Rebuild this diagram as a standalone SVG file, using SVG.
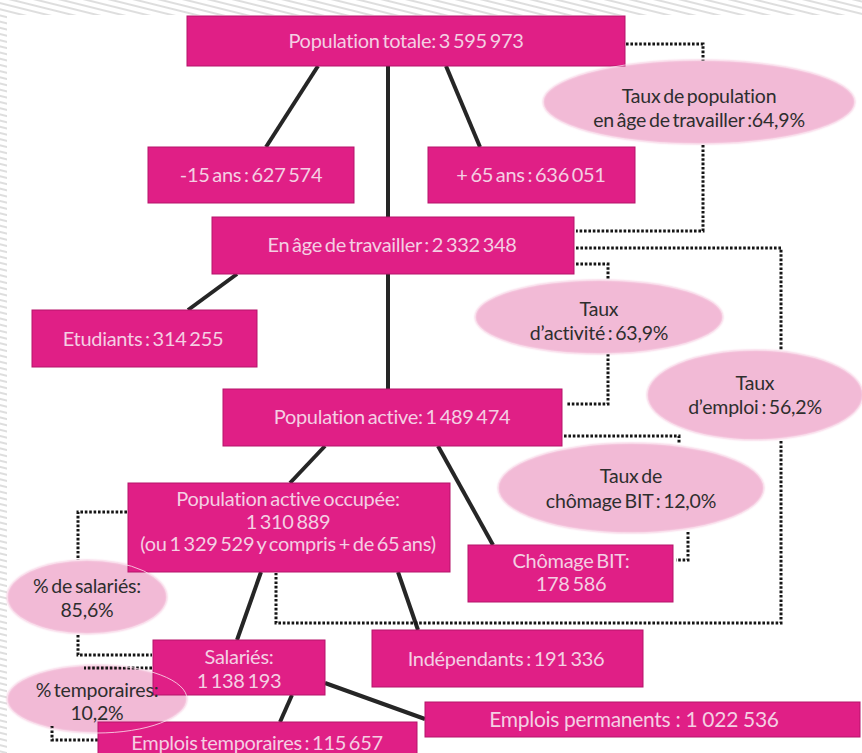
<svg xmlns="http://www.w3.org/2000/svg" width="862" height="753" viewBox="0 0 862 753">
  <defs>
    <pattern id="hatch" width="8" height="6" patternUnits="userSpaceOnUse" patternTransform="rotate(14)">
      <rect width="8" height="6" fill="#ffffff"/>
      <line x1="0" y1="3" x2="8" y2="3" stroke="#d6d6d6" stroke-width="1.6"/>
    </pattern>
    <filter id="soft" x="-10%" y="-10%" width="120%" height="120%">
      <feGaussianBlur stdDeviation="1.2"/>
    </filter>
  </defs>
  <style>
    .box { fill: #e01f86; stroke: #b5146a; stroke-width: 1; }
    .bt { font-family: "Lato", "Liberation Sans", sans-serif; font-size: 20px; letter-spacing: -0.3px; word-spacing: -2px; fill: #f4cfe3; text-anchor: middle; }
    .wide { font-size: 21px; word-spacing: 0px; }
    .halo { fill: #f2bad6; }
    .rim { fill: none; stroke: #fbe3ef; stroke-width: 1; opacity: 0.8; }
    .et { font-family: "Lato", "Liberation Sans", sans-serif; font-size: 19.5px; letter-spacing: -0.2px; word-spacing: -2px; fill: #2e2e2e; text-anchor: middle; }
    .solid { fill: none; stroke: #262626; stroke-width: 4; stroke-linecap: butt; }
    .dot { fill: none; stroke: #151515; stroke-width: 3; stroke-dasharray: 2.6 1.8; }
  </style>

  <!-- page background with hatched margins -->
  <rect x="0" y="0" width="862" height="753" fill="url(#hatch)"/>
  <rect x="7" y="15" width="855" height="738" fill="#ffffff"/>

  <!-- soft pink backgrounds of the rate bubbles -->
  <g id="ellipse-fills" filter="url(#soft)">
    <ellipse class="halo" cx="699" cy="102" rx="156" ry="42"/>
    <ellipse class="halo" cx="599" cy="317" rx="124" ry="37"/>
    <ellipse class="halo" cx="755" cy="395" rx="108" ry="45"/>
    <ellipse class="halo" cx="631" cy="488" rx="133" ry="45"/>
    <ellipse class="halo" cx="87" cy="597" rx="80" ry="37"/>
    <ellipse class="halo" cx="97" cy="699" rx="90" ry="34"/>
  </g>

  <!-- connectors -->
  <g id="connectors">
    <!-- hierarchy links -->
    <line class="solid" x1="318" y1="66" x2="266" y2="147"/>
    <line class="solid" x1="388" y1="66" x2="388" y2="217"/>
    <line class="solid" x1="446" y1="66" x2="480" y2="147"/>
    <line class="solid" x1="237" y1="274" x2="188" y2="310"/>
    <line class="solid" x1="388" y1="274" x2="388" y2="389"/>
    <line class="solid" x1="325" y1="446" x2="290" y2="483"/>
    <line class="solid" x1="438" y1="446" x2="493" y2="545"/>
    <line class="solid" x1="261" y1="572" x2="237" y2="640"/>
    <line class="solid" x1="398" y1="572" x2="418" y2="630"/>
    <line class="solid" x1="292" y1="695" x2="280" y2="722"/>
    <line class="solid" x1="325" y1="683" x2="425" y2="719"/>

    <!-- rate links -->
    <polyline class="dot" points="626,44 703,44 703,61"/>
    <polyline class="dot" points="703,145 703,231 576,231"/>
    <polyline class="dot" points="576,248 781,248 781,351"/>
    <polyline class="dot" points="781,441 781,623 276,623 276,573"/>
    <polyline class="dot" points="576,264 608,264 608,280"/>
    <polyline class="dot" points="608,354 608,404 566,404"/>
    <polyline class="dot" points="564,436 679,436 679,444"/>
    <polyline class="dot" points="688,532 688,560 676,560"/>
    <polyline class="dot" points="127,512 78,512 78,560"/>
    <polyline class="dot" points="78,635 78,655 152,655"/>
    <polyline class="dot" points="152,668 84,668"/>
    <polyline class="dot" points="52,726 52,740 125,740"/>
  </g>

  <!-- counts -->
  <g id="population-totale">
    <rect class="box" x="187" y="16" width="438" height="50"/>
    <text class="bt" x="406" y="48">Population totale: 3 595 973</text>
  </g>
  <g id="moins-15-ans">
    <rect class="box" x="148" y="147" width="206" height="56"/>
    <text class="bt" x="251" y="182">-15 ans : 627 574</text>
  </g>
  <g id="plus-65-ans">
    <rect class="box" x="428" y="147" width="207" height="56"/>
    <text class="bt" x="531" y="182">+ 65 ans : 636 051</text>
  </g>
  <g id="en-age-de-travailler">
    <rect class="box" x="212" y="217" width="362" height="57"/>
    <text class="bt" x="392" y="252">En âge de travailler : 2 332 348</text>
  </g>
  <g id="etudiants">
    <rect class="box" x="32" y="310" width="225" height="57"/>
    <text class="bt" x="143" y="346">Etudiants : 314 255</text>
  </g>
  <g id="population-active">
    <rect class="box" x="223" y="389" width="339" height="57"/>
    <text class="bt" x="392" y="424">Population active: 1 489 474</text>
  </g>
  <g id="population-active-occupee">
    <rect class="box" x="128" y="483" width="322" height="89"/>
    <text class="bt" x="288" y="506">Population active occupée:</text>
    <text class="bt" x="288" y="529">1 310 889</text>
    <text class="bt" x="288" y="551">(ou 1 329 529 y compris + de 65 ans)</text>
  </g>
  <g id="chomage-bit">
    <rect class="box" x="468" y="545" width="205" height="57"/>
    <text class="bt" x="571" y="568">Chômage BIT:</text>
    <text class="bt" x="571" y="591">178 586</text>
  </g>
  <g id="salaries">
    <rect class="box" x="153" y="640" width="172" height="55"/>
    <text class="bt" x="239" y="664">Salariés:</text>
    <text class="bt" x="239" y="688">1  138 193</text>
  </g>
  <g id="independants">
    <rect class="box" x="372" y="630" width="271" height="57"/>
    <text class="bt" x="506" y="666">Indépendants : 191 336</text>
  </g>
  <g id="emplois-permanents">
    <rect class="box" x="425" y="702" width="435" height="35"/>
    <text class="bt wide" x="634" y="727">Emplois permanents : 1 022 536</text>
  </g>
  <g id="emplois-temporaires">
    <rect class="box" x="98" y="722" width="319" height="36"/>
    <text class="bt" x="257" y="750">Emplois temporaires : 115 657</text>
  </g>

  <!-- rates -->
  <g id="taux-population-age-travailler">
    <ellipse class="rim" cx="699" cy="102" rx="156" ry="42"/>
    <text class="et" x="699" y="103">Taux de population</text>
    <text class="et" x="699" y="127">en âge de travailler :64,9%</text>
  </g>
  <g id="taux-activite">
    <ellipse class="rim" cx="599" cy="317" rx="124" ry="37"/>
    <text class="et" x="599" y="316">Taux</text>
    <text class="et" x="599" y="340">d’activité : 63,9%</text>
  </g>
  <g id="taux-emploi">
    <ellipse class="rim" cx="755" cy="395" rx="108" ry="45"/>
    <text class="et" x="755" y="390">Taux</text>
    <text class="et" x="755" y="414">d’emploi : 56,2%</text>
  </g>
  <g id="taux-chomage">
    <ellipse class="rim" cx="631" cy="488" rx="133" ry="45"/>
    <text class="et" x="631" y="483">Taux de</text>
    <text class="et" x="631" y="508">chômage BIT : 12,0%</text>
  </g>
  <g id="part-salaries">
    <ellipse class="rim" cx="87" cy="597" rx="80" ry="37"/>
    <text class="et" x="87" y="593">% de salariés:</text>
    <text class="et" x="87" y="617">85,6%</text>
  </g>
  <g id="part-temporaires">
    <ellipse class="rim" cx="97" cy="699" rx="90" ry="34"/>
    <text class="et" x="97" y="697">% temporaires:</text>
    <text class="et" x="97" y="720">10,2%</text>
  </g>
</svg>
